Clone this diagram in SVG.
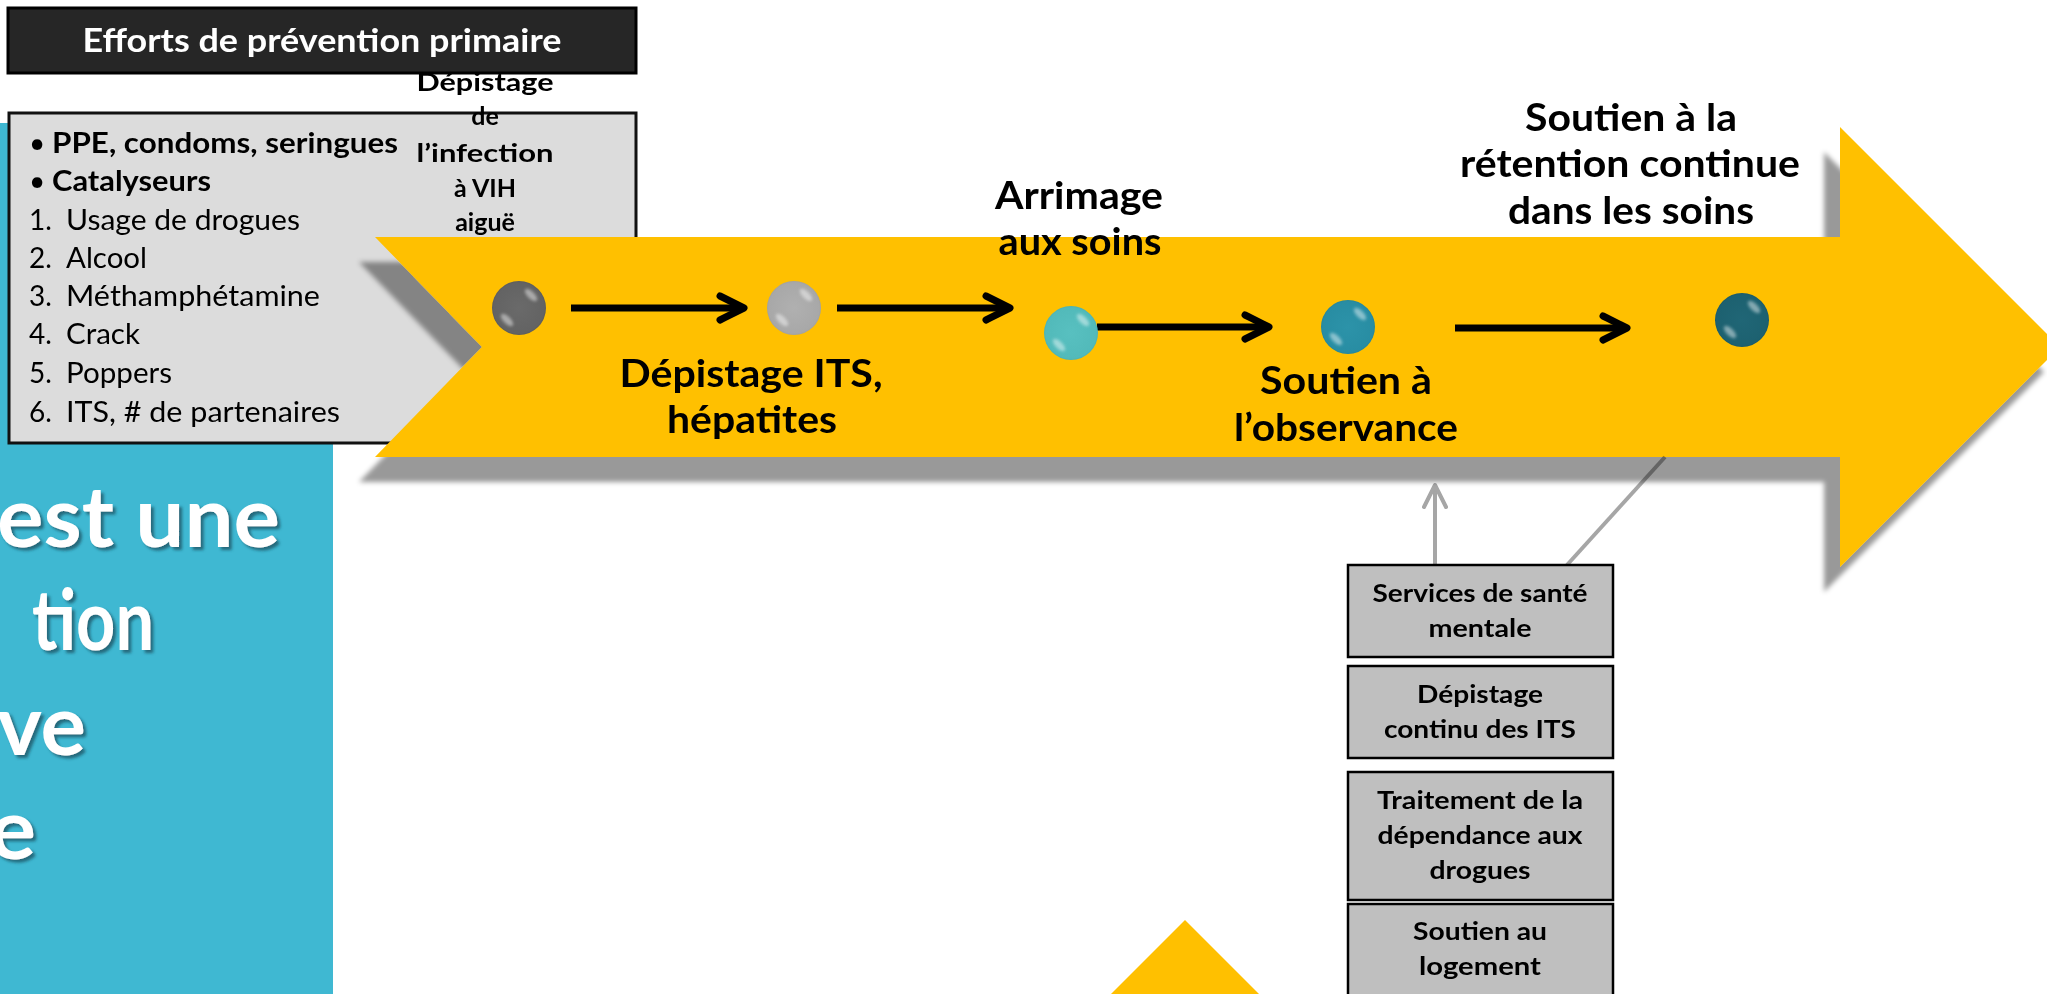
<svg xmlns="http://www.w3.org/2000/svg" width="2047" height="994" viewBox="0 0 2047 994">
  <style>
    .sans { font-family: Lato, "Liberation Sans", "DejaVu Sans", sans-serif; }
    .bold { font-weight: 700; }
    .lbl { font-family: Lato, "Liberation Sans", sans-serif; font-weight: 700; font-size: 38px; fill: #000; text-anchor: middle; }
    .acute { font-family: Lato, "Liberation Sans", sans-serif; font-weight: 700; font-size: 25px; fill: #000; text-anchor: middle; }
    .list { font-family: Lato, "Liberation Sans", sans-serif; font-size: 28px; fill: #000; }
    .svc-box { fill: #bfbfbf; stroke: #000; stroke-width: 2.5; }
    .svc-t { font-family: Lato, "Liberation Sans", sans-serif; font-weight: 700; font-size: 25px; fill: #000; text-anchor: middle; }
    .big { font-family: Lato, "Liberation Sans", sans-serif; font-weight: 700; font-size: 84px; fill: #fff; }
    .flow { fill: none; stroke: #000; stroke-width: 7; }
    .link { fill: none; stroke: #a6a6a6; stroke-width: 4; mix-blend-mode: multiply; }
    .spot { fill: #fff; opacity: 0.45; }
  </style>
  <defs>
    <filter id="arrowShadow" x="-5%" y="-10%" width="110%" height="130%">
      <feGaussianBlur in="SourceAlpha" stdDeviation="2.5"/>
      <feOffset dx="-16" dy="25" result="off"/>
      <feFlood flood-color="#000" flood-opacity="0.4"/>
      <feComposite in2="off" operator="in"/>
      <feMerge>
        <feMergeNode/>
        <feMergeNode in="SourceGraphic"/>
      </feMerge>
    </filter>
    <filter id="textShadow" x="-10%" y="-20%" width="130%" height="150%">
      <feDropShadow dx="3" dy="3" stdDeviation="1.5" flood-color="#1b4f5e" flood-opacity="0.75"/>
    </filter>
    <filter id="soft" x="-50%" y="-50%" width="200%" height="200%">
      <feGaussianBlur stdDeviation="1.6"/>
    </filter>
    <marker id="chev" markerUnits="userSpaceOnUse" markerWidth="40" markerHeight="40" viewBox="-30 -20 40 40" refX="0" refY="0" orient="auto" overflow="visible">
      <path d="M-24,-12 L0,0 L-24,12" fill="none" stroke="#000" stroke-width="7" stroke-linecap="round" stroke-linejoin="round"/>
    </marker>
    <marker id="chevGray" markerUnits="userSpaceOnUse" markerWidth="40" markerHeight="40" viewBox="-30 -20 40 40" refX="0" refY="0" orient="auto" overflow="visible">
      <path d="M-22,-11 L0,0 L-22,11" fill="none" stroke="#a6a6a6" stroke-width="4" stroke-linecap="round" stroke-linejoin="round"/>
    </marker>
    <radialGradient id="g1" cx="50%" cy="50%" r="55%">
      <stop offset="0" stop-color="#6a6a6a"/>
      <stop offset="0.85" stop-color="#636363"/>
      <stop offset="1" stop-color="#505050"/>
    </radialGradient>
    <radialGradient id="g2" cx="50%" cy="50%" r="55%">
      <stop offset="0" stop-color="#b0b0b0"/>
      <stop offset="0.85" stop-color="#a8a8a8"/>
      <stop offset="1" stop-color="#969696"/>
    </radialGradient>
    <radialGradient id="g3" cx="50%" cy="50%" r="55%">
      <stop offset="0" stop-color="#58c0c0"/>
      <stop offset="0.85" stop-color="#52baba"/>
      <stop offset="1" stop-color="#40a6a8"/>
    </radialGradient>
    <radialGradient id="g4" cx="50%" cy="50%" r="55%">
      <stop offset="0" stop-color="#2c93a9"/>
      <stop offset="0.85" stop-color="#288da3"/>
      <stop offset="1" stop-color="#1d7a8f"/>
    </radialGradient>
    <radialGradient id="g5" cx="50%" cy="50%" r="55%">
      <stop offset="0" stop-color="#206676"/>
      <stop offset="0.85" stop-color="#1d6170"/>
      <stop offset="1" stop-color="#154f5c"/>
    </radialGradient>
  </defs>

  <!-- left title panel -->
  <g id="title-panel">
    <rect x="0" y="123" width="333" height="871" fill="#3fb8d2"/>
    <g filter="url(#textShadow)">
      <text class="big" x="-3" y="547" textLength="283" lengthAdjust="spacingAndGlyphs">est une</text>
      <text class="big" x="32" y="650" textLength="122" lengthAdjust="spacingAndGlyphs">tion</text>
      <text class="big" x="-3" y="755" textLength="89" lengthAdjust="spacingAndGlyphs">ve</text>
      <text class="big" x="-11" y="859" textLength="47" lengthAdjust="spacingAndGlyphs">e</text>
    </g>
  </g>

  <!-- primary prevention list -->
  <g id="prevention-list">
    <rect x="9" y="113" width="627" height="330" fill="#dcdcdc" stroke="#111" stroke-width="3"/>
    <text class="list" x="29" y="153">•</text>
    <text class="list bold" x="52" y="153" textLength="346" lengthAdjust="spacingAndGlyphs">PPE, condoms, seringues</text>
    <text class="list" x="29" y="191">•</text>
    <text class="list bold" x="52" y="191" textLength="159" lengthAdjust="spacingAndGlyphs">Catalyseurs</text>
    <text class="list" x="29" y="230">1.</text>
    <text class="list" x="66" y="230" textLength="234" lengthAdjust="spacingAndGlyphs">Usage de drogues</text>
    <text class="list" x="29" y="268">2.</text>
    <text class="list" x="66" y="268" textLength="81" lengthAdjust="spacingAndGlyphs">Alcool</text>
    <text class="list" x="29" y="306">3.</text>
    <text class="list" x="66" y="306" textLength="254" lengthAdjust="spacingAndGlyphs">Méthamphétamine</text>
    <text class="list" x="29" y="344">4.</text>
    <text class="list" x="66" y="344" textLength="74" lengthAdjust="spacingAndGlyphs">Crack</text>
    <text class="list" x="29" y="383">5.</text>
    <text class="list" x="66" y="383" textLength="106" lengthAdjust="spacingAndGlyphs">Poppers</text>
    <text class="list" x="29" y="422">6.</text>
    <text class="list" x="66" y="422" textLength="274" lengthAdjust="spacingAndGlyphs">ITS, # de partenaires</text>
  </g>

  <!-- header bar -->
  <g id="prevention-header">
    <rect x="8" y="8" width="628" height="65" fill="#262626" stroke="#000" stroke-width="3"/>
    <text class="sans bold" x="322" y="52" font-size="33" fill="#fff" text-anchor="middle" textLength="479" lengthAdjust="spacingAndGlyphs">Efforts de prévention primaire</text>
  </g>

  <!-- care cascade arrow -->
  <g id="cascade-arrow">
    <polygon points="375,237 1840,237 1840,127 2060,347 1840,567 1840,457 375,457 482,347" fill="#ffc000" filter="url(#arrowShadow)"/>
  </g>

  <!-- connectors -->
  <g id="connectors">
    <line class="link" x1="1665" y1="457" x2="1567" y2="565"/>
    <line class="link" x1="1435" y1="565" x2="1435" y2="485" marker-end="url(#chevGray)"/>
    <line class="flow" x1="571" y1="308" x2="744" y2="308" marker-end="url(#chev)"/>
    <line class="flow" x1="837" y1="308" x2="1010" y2="308" marker-end="url(#chev)"/>
    <line class="flow" x1="1097" y1="327" x2="1269" y2="327" marker-end="url(#chev)"/>
    <line class="flow" x1="1455" y1="328" x2="1627" y2="328" marker-end="url(#chev)"/>
  </g>

  <!-- step 1 -->
  <g id="step-acute-hiv">
    <circle cx="519" cy="308" r="27" fill="url(#g1)"/>
    <ellipse class="spot" cx="531" cy="295" rx="8" ry="3.5" transform="rotate(45 531 295)" filter="url(#soft)"/>
    <ellipse class="spot" cx="507" cy="320" rx="8" ry="3.5" transform="rotate(45 507 320)" filter="url(#soft)"/>
    <text class="acute" x="485" y="91" textLength="137" lengthAdjust="spacingAndGlyphs">Dépistage</text>
    <text class="acute" x="485" y="125">de</text>
    <text class="acute" x="485" y="162" textLength="137" lengthAdjust="spacingAndGlyphs">l’infection</text>
    <text class="acute" x="485" y="197">à VIH</text>
    <text class="acute" x="485" y="231">aiguë</text>
  </g>

  <!-- step 2 -->
  <g id="step-sti-screening">
    <circle cx="794" cy="308" r="27" fill="url(#g2)"/>
    <ellipse class="spot" cx="806" cy="295" rx="8" ry="3.5" transform="rotate(45 806 295)" filter="url(#soft)"/>
    <ellipse class="spot" cx="782" cy="320" rx="8" ry="3.5" transform="rotate(45 782 320)" filter="url(#soft)"/>
    <text class="lbl" x="751" y="387" textLength="263" lengthAdjust="spacingAndGlyphs">Dépistage ITS,</text>
    <text class="lbl" x="752" y="433" textLength="170" lengthAdjust="spacingAndGlyphs">hépatites</text>
  </g>

  <!-- step 3 -->
  <g id="step-linkage">
    <circle cx="1071" cy="333" r="27" fill="url(#g3)"/>
    <ellipse class="spot" cx="1083" cy="320" rx="8" ry="3.5" transform="rotate(45 1083 320)" filter="url(#soft)"/>
    <ellipse class="spot" cx="1059" cy="345" rx="8" ry="3.5" transform="rotate(45 1059 345)" filter="url(#soft)"/>
    <text class="lbl" x="1079" y="209" textLength="168" lengthAdjust="spacingAndGlyphs">Arrimage</text>
    <text class="lbl" x="1080" y="255" textLength="163" lengthAdjust="spacingAndGlyphs">aux soins</text>
  </g>

  <!-- step 4 -->
  <g id="step-adherence">
    <circle cx="1348" cy="327" r="27" fill="url(#g4)"/>
    <ellipse class="spot" cx="1360" cy="314" rx="8" ry="3.5" transform="rotate(45 1360 314)" filter="url(#soft)"/>
    <ellipse class="spot" cx="1336" cy="339" rx="8" ry="3.5" transform="rotate(45 1336 339)" filter="url(#soft)"/>
    <text class="lbl" x="1346" y="394" textLength="172" lengthAdjust="spacingAndGlyphs">Soutien à</text>
    <text class="lbl" x="1346" y="441" textLength="224" lengthAdjust="spacingAndGlyphs">l’observance</text>
  </g>

  <!-- step 5 -->
  <g id="step-retention">
    <circle cx="1742" cy="320" r="27" fill="url(#g5)"/>
    <ellipse class="spot" cx="1754" cy="307" rx="8" ry="3.5" transform="rotate(45 1754 307)" filter="url(#soft)"/>
    <ellipse class="spot" cx="1730" cy="332" rx="8" ry="3.5" transform="rotate(45 1730 332)" filter="url(#soft)"/>
    <text class="lbl" x="1631" y="131" textLength="212" lengthAdjust="spacingAndGlyphs">Soutien à la</text>
    <text class="lbl" x="1630" y="177" textLength="340" lengthAdjust="spacingAndGlyphs">rétention continue</text>
    <text class="lbl" x="1631" y="224" textLength="246" lengthAdjust="spacingAndGlyphs">dans les soins</text>
  </g>

  <!-- support services -->
  <g id="svc-mental-health">
    <rect class="svc-box" x="1348" y="565" width="265" height="92"/>
    <text class="svc-t" x="1480" y="602" textLength="215" lengthAdjust="spacingAndGlyphs">Services de santé</text>
    <text class="svc-t" x="1480" y="637" textLength="103" lengthAdjust="spacingAndGlyphs">mentale</text>
  </g>
  <g id="svc-sti-testing">
    <rect class="svc-box" x="1348" y="666" width="265" height="92"/>
    <text class="svc-t" x="1480" y="703" textLength="126" lengthAdjust="spacingAndGlyphs">Dépistage</text>
    <text class="svc-t" x="1480" y="738" textLength="192" lengthAdjust="spacingAndGlyphs">continu des ITS</text>
  </g>
  <g id="svc-addiction">
    <rect class="svc-box" x="1348" y="772" width="265" height="128"/>
    <text class="svc-t" x="1480" y="809" textLength="206" lengthAdjust="spacingAndGlyphs">Traitement de la</text>
    <text class="svc-t" x="1480" y="844" textLength="205" lengthAdjust="spacingAndGlyphs">dépendance aux</text>
    <text class="svc-t" x="1480" y="879" textLength="101" lengthAdjust="spacingAndGlyphs">drogues</text>
  </g>
  <g id="svc-housing">
    <rect class="svc-box" x="1348" y="904" width="265" height="100"/>
    <text class="svc-t" x="1480" y="940" textLength="134" lengthAdjust="spacingAndGlyphs">Soutien au</text>
    <text class="svc-t" x="1480" y="975" textLength="122" lengthAdjust="spacingAndGlyphs">logement</text>
  </g>

  <!-- lower arrow tip -->
  <g id="lower-arrow">
    <polygon points="1185,920 1265,1000 1105,1000" fill="#ffc000"/>
  </g>
</svg>
